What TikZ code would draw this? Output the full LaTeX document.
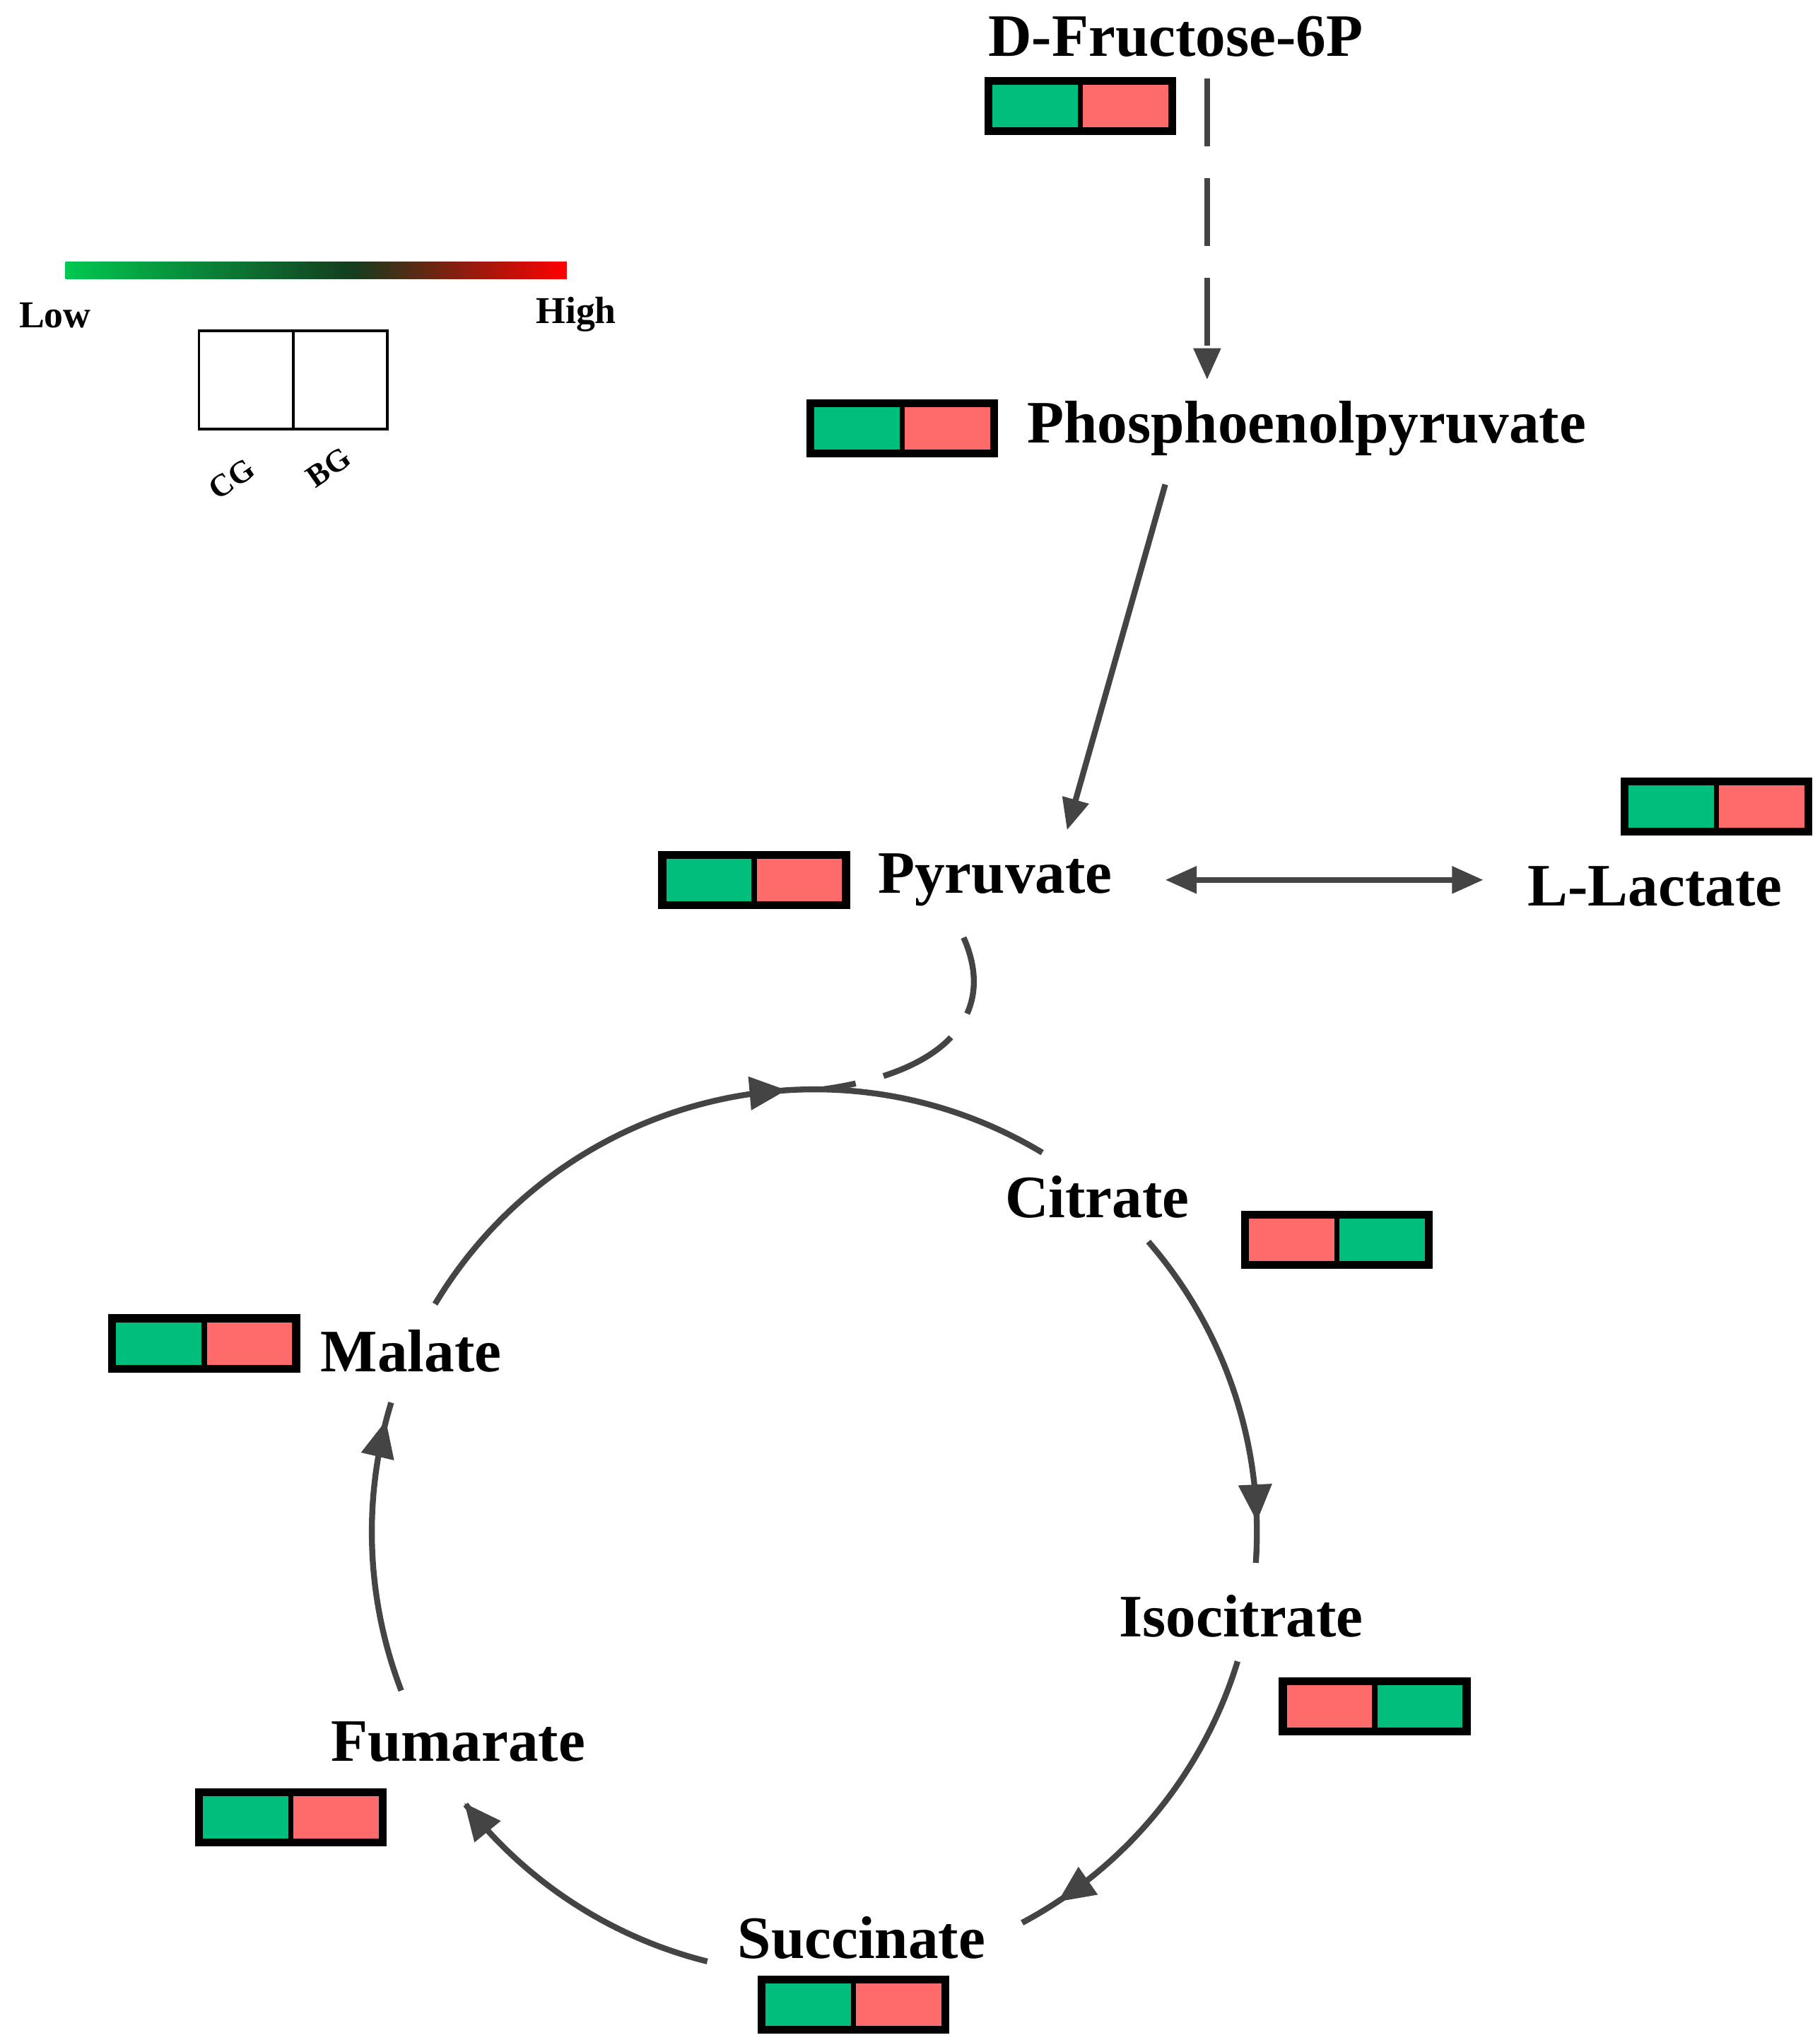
\documentclass[tikz,border=0pt]{standalone}
\usepackage{fontspec}
\setmainfont{Liberation Serif}
\usetikzlibrary{arrows.meta,decorations.markings}
\definecolor{gbox}{HTML}{00BF7C}
\definecolor{rbox}{HTML}{FF6B6B}
\definecolor{ln}{HTML}{444444}
\begin{document}
\begin{tikzpicture}[x=1pt,y=-1pt,
  lbl/.style={font=\fontsize{46}{50}\selectfont\bfseries, inner sep=0pt},
  con/.style={draw=ln, line width=4.5pt},
  tip/.style={-{Triangle[length=24pt,width=20pt]}},
  mk/.style={postaction={decorate,decoration={markings,mark=at position #1 with {\fill[ln] (8pt,0) -- (-20pt,13pt) -- (-20pt,-13pt) -- cycle;}}}}
]
\useasboundingbox (0,0) rectangle (1390,1558);
\newcommand{\pair}[4]{% name, center, leftcolor, rightcolor
  \node[name=#1, minimum width=140pt, minimum height=38pt, inner sep=0pt] at #2 {};
  \fill[#3] (#1.north west) rectangle (#1.south);
  \fill[#4] (#1.north) rectangle (#1.south east);
  \draw[line width=6pt] (#1.north west) rectangle (#1.south east);
  \draw[line width=4pt] (#1.north) -- (#1.south);
}
\pair{bF}{(825,81)}{gbox}{rbox}
\pair{bP}{(689,327)}{gbox}{rbox}
\pair{bY}{(576,672)}{gbox}{rbox}
\pair{bL}{(1311,616)}{gbox}{rbox}
\pair{bC}{(1021,947)}{rbox}{gbox}
\pair{bM}{(156,1026)}{gbox}{rbox}
\pair{bI}{(1050,1303)}{rbox}{gbox}
\pair{bFu}{(222,1388)}{gbox}{rbox}
\pair{bS}{(652,1531)}{gbox}{rbox}

\node[lbl] (F6P) at (898,28) {D-Fructose-6P};
\node[lbl] (PEP) at (998,327) {Phosphoenolpyruvate};
\node[lbl] (Pyr) at (760,672) {Pyruvate};
\node[lbl] (Lac) at (1264,677) {L-Lactate};
\node[lbl] (Cit) at (838,914) {Citrate};
\node[lbl] (Iso) at (948,1234) {Isocitrate};
\node[lbl] (Mal) at (314,1032) {Malate};
\node[lbl] (Fum) at (350,1330) {Fumarate};
\node[lbl] (Suc) at (658,1480) {Succinate};

\coordinate (f1) at (922,60);
\coordinate (f2) at (922,290);
\draw[con,tip,dash pattern=on 52pt off 24pt] (f1) -- (f2);
\coordinate (p1) at (890,370);
\coordinate (p2) at (815,634);
\draw[con,tip] (p1) -- (p2);
\coordinate (y1) at (890,672);
\coordinate (y2) at (1133,672);
\draw[con,{Triangle[length=24pt,width=20pt]}-{Triangle[length=24pt,width=20pt]}] (y1) -- (y2);
\coordinate (d1) at (736,716);
\coordinate (d2) at (628,832);
\draw[con,dash pattern=on 60pt off 22pt] (d1) .. controls (760,770) and (730,818) .. (d2);

% TCA circle, center (622,1170), r=338
\coordinate (c0) at (622,1170);
\draw[con,mk=0.6] ([shift={(211:338)}]c0) arc[start angle=211,end angle=301,radius=338];
\draw[con,mk=0.85] ([shift={(-41:338)}]c0) arc[start angle=-41,end angle=4,radius=338];
\draw[con,mk=0.85] ([shift={(17:338)}]c0) arc[start angle=17,end angle=62,radius=338];
\draw[con,mk=0.97] ([shift={(104:338)}]c0) arc[start angle=104,end angle=142,radius=338];
\draw[con,mk=0.9] ([shift={(159:338)}]c0) arc[start angle=159,end angle=197,radius=338];

% legend
\shade[left color={rgb,255:red,0;green,200;blue,80}, right color={rgb,255:red,20;green,60;blue,30}] (50,200) rectangle (270,213);
\shade[left color={rgb,255:red,20;green,60;blue,30}, right color={rgb,255:red,255;green,0;blue,0}] (270,200) rectangle (433,213);
\node[font=\fontsize{29}{32}\selectfont\bfseries] (low) at (42,241) {Low};
\node[font=\fontsize{29}{32}\selectfont\bfseries] (high) at (440,240) {High};
\node[draw, line width=2pt, minimum width=72pt, minimum height=75pt, inner sep=0pt] (lg1) at (188,290) {};
\node[draw, line width=2pt, minimum width=72pt, minimum height=75pt, inner sep=0pt] (lg2) at (260,290) {};
\node[font=\fontsize{24}{26}\selectfont\bfseries, rotate=35, inner sep=0pt] (cg) at (177,366) {CG};
\node[font=\fontsize{24}{26}\selectfont\bfseries, rotate=35, inner sep=0pt] (bg) at (251,357) {BG};
\end{tikzpicture}
\end{document}
